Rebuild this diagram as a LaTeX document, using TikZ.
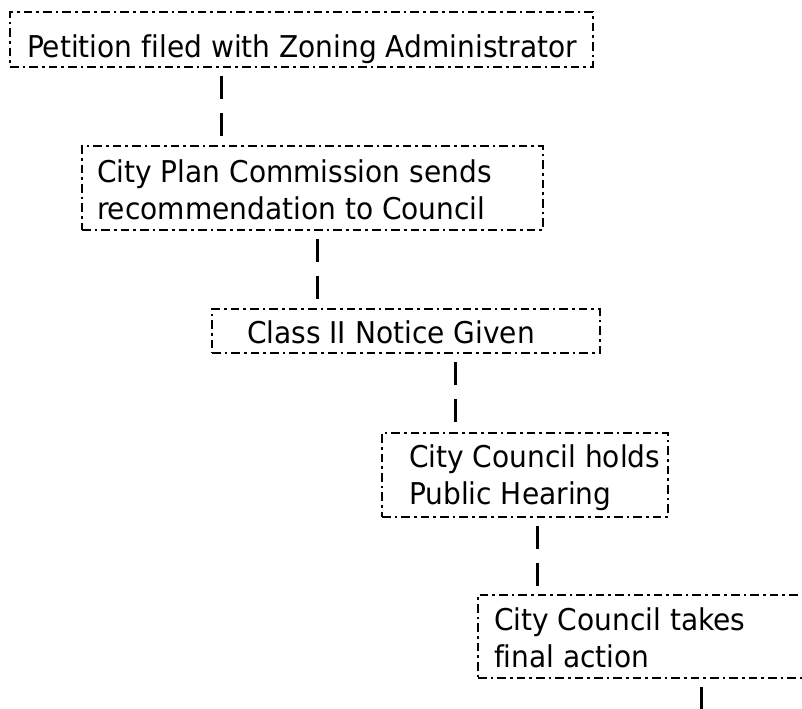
\documentclass[tikz,border=0pt]{standalone}
\usepackage{fontspec}
\setmainfont{DejaVu Sans}[FakeStretch=0.935, Ligatures=CommonOff]
\begin{document}
\begin{tikzpicture}[x=0.75pt,y=-0.75pt,
  box/.style={draw=black, line width=2pt, dash pattern=on 6.5pt off 3pt on 2pt off 3pt,
    inner sep=0pt, outer sep=0pt, anchor=north west},
  txt/.style={inner sep=0pt, outer sep=0pt, anchor=base west, align=left,
    font=\fontsize{22.5pt}{27.75pt}\selectfont},
  conn/.style={line width=2.25pt, draw=black,
    dash pattern=on 0pt off 6.75pt on 17.25pt off 10.5pt on 17.25pt off 40pt}]
\path[use as bounding box, fill=white] (0,0) rectangle (802,708);
\clip (0,0) rectangle (802,708);
% boxes
\node[box, minimum width=583*0.75pt, minimum height=55*0.75pt] (b1) at (10,12) {};
\node[box, minimum width=461*0.75pt, minimum height=84*0.75pt] (b2) at (82,146) {};
\node[box, minimum width=388*0.75pt, minimum height=44*0.75pt] (b3) at (212,309) {};
\node[box, minimum width=286*0.75pt, minimum height=84*0.75pt] (b4) at (382,433) {};
\node[box, minimum width=360*0.75pt, minimum height=83*0.75pt] (b5) at (478,595) {};
% texts (base anchor = baseline of the last line)
\node[txt] (t1) at (27,57) {Petition filed with Zoning Administrator};
\node[txt] (t2) at (97,219) {City Plan Commission sends\\recommendation to Council};
\node[txt] (t3) at (247,343) {Class II Notice Given};
\node[txt] (t4) at (409,504) {City Council holds\\Public Hearing};
\node[txt] (t5) at (494,667) {City Council takes\\final action};
% connector columns
\coordinate (x1) at (221,0);
\coordinate (x2) at (317,0);
\coordinate (x3) at (455,0);
\coordinate (x4) at (537,0);
\coordinate (x5) at (701,0);
\coordinate (end5) at (701,760);
\draw[conn] (b1.south -| x1) -- (b2.north -| x1);
\draw[conn] (b2.south -| x2) -- (b3.north -| x2);
\draw[conn] (b3.south -| x3) -- (b4.north -| x3);
\draw[conn] (b4.south -| x4) -- (b5.north -| x4);
\draw[conn] (b5.south -| x5) -- (end5);
\end{tikzpicture}
\end{document}
